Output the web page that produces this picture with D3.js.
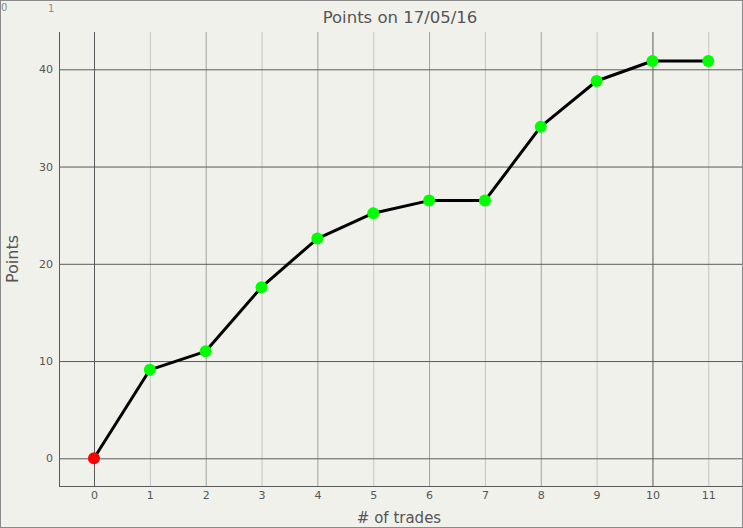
<!DOCTYPE html>
<html><head><meta charset="utf-8">
<script src="https://cdn.jsdelivr.net/npm/d3@7"></script>
<style>
html,body{margin:0;padding:0;background:#f1f1ec;}
svg{display:block;}
text{font-family:"DejaVu Sans",Verdana,sans-serif;}
</style></head>
<body>
<svg id="c" width="743" height="528"></svg>
<script>
const trades = [0,1,2,3,4,5,6,7,8,9,10,11];
const points = [0,9.1,11.0,17.6,22.6,25.2,26.5,26.5,34.1,38.8,40.85,40.85];
const xTicks = [0,1,2,3,4,5,6,7,8,9,10,11];
const yTicks = [0,10,20,30,40];
const title = "Points on 17/05/16";
const xLabel = "# of trades";
const yLabel = "Points";

const W=743,H=528;
const plot={left:59,right:742,top:32,bottom:486};
const svg=d3.select("#c");
svg.append("rect").attr("x",0.5).attr("y",0.5).attr("width",W-1).attr("height",H-1)
  .attr("fill","#f1f1ec").attr("stroke","#8a8a8a");

const x=d3.scaleLinear().domain([0,11]).range([94,708.3]);
const y=d3.scaleLinear().domain([0,40]).range([458.3,69.3]);

function xShade(d){ if(d%10===0) return "#5a5a5a"; if(d%2===0) return "#a0a0a0"; return "#c4c4c4"; }

const gx=svg.append("g").attr("transform",`translate(0,${plot.bottom})`)
  .call(d3.axisBottom(x).tickValues(xTicks).tickSize(-(plot.bottom-plot.top)).tickPadding(5).tickFormat(d3.format("d")));
gx.select(".domain").remove();
gx.selectAll(".tick line").attr("stroke",d=>xShade(d)).attr("stroke-width",1);
gx.selectAll(".tick text").attr("fill","#555").style("font-size","11px").style("font-family","DejaVu Sans, Verdana, sans-serif");

const gy=svg.append("g").attr("transform",`translate(${plot.left},0)`)
  .call(d3.axisLeft(y).tickValues(yTicks).tickSize(-(plot.right-plot.left)).tickPadding(6).tickFormat(d3.format("d")));
gy.select(".domain").remove();
gy.selectAll(".tick line").attr("stroke","#5a5a5a").attr("stroke-width",1);
gy.selectAll(".tick text").attr("fill","#555").style("font-size","11px").style("font-family","DejaVu Sans, Verdana, sans-serif");

svg.append("line").attr("x1",plot.left+0.5).attr("x2",plot.left+0.5).attr("y1",plot.top).attr("y2",plot.bottom+0.5).attr("stroke","#5a5a5a");
svg.append("line").attr("x1",plot.left).attr("x2",plot.right).attr("y1",plot.bottom+0.5).attr("y2",plot.bottom+0.5).attr("stroke","#5a5a5a");

const data=trades.map((t,i)=>({t,v:points[i]}));
svg.append("path").datum(data).attr("fill","none").attr("stroke","#000").attr("stroke-width",3)
  .attr("stroke-linejoin","round")
  .attr("d",d3.line().x(d=>x(d.t)).y(d=>y(d.v)));
svg.selectAll("circle.pt").data(data).join("circle").attr("class","pt")
  .attr("cx",d=>x(d.t)).attr("cy",d=>y(d.v)).attr("r",6)
  .attr("fill",(d,i)=>i===0?"#ff0000":"#00ff00");

svg.append("text").attr("x",400).attr("y",23).attr("text-anchor","middle").attr("fill","#555")
  .style("font-size","16.5px").text(title);
svg.append("text").attr("x",399).attr("y",523).attr("text-anchor","middle").attr("fill","#555")
  .style("font-size","15px").text(xLabel);
svg.append("text").attr("transform","translate(18,259) rotate(-90)").attr("text-anchor","middle").attr("fill","#555")
  .style("font-size","16px").text(yLabel);
svg.append("text").attr("x",1).attr("y",11).attr("fill","#8a8a8a").style("font-size","10px").text("0");
svg.append("text").attr("x",48).attr("y",12).attr("fill","#a08a6a").style("font-size","10px").text("1");
</script>
</body></html>
